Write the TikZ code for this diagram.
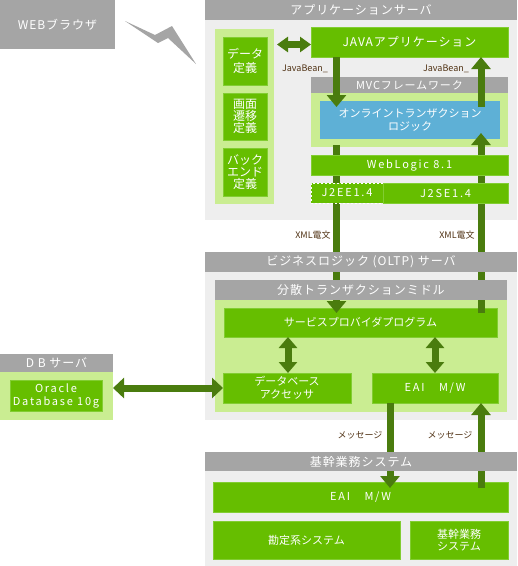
\documentclass[tikz,border=0pt]{standalone}
\usepackage{fontspec}
\setmainfont{Noto Sans CJK JP}
\newfontfamily\spfont[LetterSpace=8]{Noto Sans CJK JP}
\newfontfamily\latfont[LetterSpace=16]{Noto Sans CJK JP}
\usetikzlibrary{arrows.meta}
\definecolor{gfill}{RGB}{102,190,0}
\definecolor{gline}{RGB}{130,205,50}
\definecolor{lgreen}{RGB}{202,237,146}
\definecolor{hgray}{RGB}{165,165,165}
\definecolor{bggray}{RGB}{238,238,238}
\definecolor{agreen}{RGB}{74,124,14}
\definecolor{oblue}{RGB}{94,176,214}
\definecolor{lbrown}{RGB}{80,50,20}
\newcommand\fsA{\fontsize{11}{13}\selectfont}
\newcommand\fsH{\spfont\fontsize{12}{14}\selectfont}
\newcommand\fsL{\latfont\fontsize{11}{13}\selectfont}
\newcommand\fsS{\fontsize{9}{11}\selectfont}
\tikzset{
  sz/.style 2 args={minimum width=#1pt, minimum height=#2pt, anchor=north west},
  base/.style={inner sep=0pt, outer sep=0pt, align=center},
  gbox/.style={base, fill=gfill, draw=gline, line width=0.7pt, text=white, font=\fsA},
  hdr/.style={base, fill=hgray, text=white, font=\fsH},
  bgbox/.style={base, fill=bggray},
  lbox/.style={base, fill=lgreen},
  lbl/.style={text=lbrown, font=\fsS, inner sep=0pt},
  arr/.style={draw=agreen, line width=7pt, -{Triangle[width=19pt,length=12pt]}},
  darr/.style={draw=agreen, line width=7pt, {Triangle[width=#1pt,length=11pt]}-{Triangle[width=#1pt,length=11pt]}},
}
\begin{document}
\begin{tikzpicture}[x=1pt,y=-1pt]
\useasboundingbox (0,0) rectangle (518,566);
% web browser
\node[hdr, sz={115}{49}] (web) at (0,0) {WEBブラウザ};
\fill[hgray] (125,21) -- (155,35) -- (172,26) -- (196,64) -- (168,38) -- (158,43) -- cycle;
% application server
\node[bgbox, sz={312}{200}] (appbg) at (205,20) {};
\node[hdr, sz={312}{20}] (apphdr) at (205,0) {アプリケーションサーバ};
\node[lbox, sz={59}{175}] (defpanel) at (215,29) {};
\node[gbox, sz={44}{48}, font=\fontsize{12}{13.5}\selectfont] (def1) at (223,37) {データ\\定義};
\node[gbox, sz={44}{47}, font=\fontsize{12}{12}\selectfont] (def2) at (223,93) {画面\\遷移\\定義};
\node[gbox, sz={44}{48}, font=\fontsize{12}{12}\selectfont] (def3) at (223,148) {バック\\エンド\\定義};
\node[gbox, sz={197}{30}, font=\spfont\fontsize{12}{14}\selectfont] (java) at (311,27) {JAVAアプリケーション};
\node[hdr, sz={197}{16}, font=\spfont\fontsize{11}{13}\selectfont] (mvchdr) at (311,77) {MVCフレームワーク};
\node[lbox, sz={197}{54}] (mvcbody) at (311,93) {};
\node[base, fill=oblue, text=white, font=\fsA, sz={180}{38}] (olt) at (320,101) {オンライントランザクション\\ロジック};
\node[lbl] (jb1) at (305,69) {JavaBean\_};
\node[lbl] (jb2) at (446,69) {JavaBean\_};
% business logic server
\node[bgbox, sz={312}{148}] (bizbg) at (205,272) {};
\node[lbox, sz={292}{112}] (dtxpanel) at (215,300) {};
\node[gbox, sz={273}{29}] (spp) at (224,308) {サービスプロバイダプログラム};
\node[gbox, sz={128}{30}] (dba) at (223,373) {データベース\\アクセッサ};
\node[gbox, sz={126}{30}, font=\fsL] (eai1) at (372,373) {EAI　M/W};
\node[lbl] (xml1) at (313,235) {XML電文};
\node[lbl] (xml2) at (457,235) {XML電文};
% core systems
\node[bgbox, sz={312}{95}] (corebg) at (205,471) {};
\node[gbox, sz={295}{30}, font=\fsL] (eai2) at (213,482) {EAI　M/W};
\node[gbox, sz={187}{38}] (kanjo) at (213,521) {勘定系システム};
\node[gbox, sz={98}{38}, font=\fontsize{11}{12.5}\selectfont] (kikan) at (410,521) {基幹業務\\システム};
\node[lbl] (msg1) at (360,435) {メッセージ};
\node[lbl] (msg2) at (450,435) {メッセージ};
% DB server
\node[hdr, sz={113}{18}] (dbhdr) at (0,354) {D B サーバ};
\node[lbox, sz={113}{48}] (dbbody) at (0,372) {};
\node[gbox, sz={92}{31}, font=\latfont\fontsize{11}{13}\selectfont] (ora) at (10,380) {Oracle\\Database 10g};
% arrow columns
\coordinate (xl) at (336.5,0);
\coordinate (xr) at (481,0);
\coordinate (xe) at (390,0);
\coordinate (xv1) at (288,0);
\coordinate (xv2) at (435,0);
\coordinate (ytop) at (0,44.5);
% arrows
\draw[arr, shorten >=-6pt] (xl |- java.south) -- (xl |- olt.north);
\draw[arr, shorten <=6pt, shorten >=-5pt] (xl |- olt.south) -- (xl |- spp.north);
\draw[arr, shorten <=-6pt] (xr |- olt.north) -- (xr |- java.south);
\draw[arr, shorten <=-5pt, shorten >=-6pt] (xr |- spp.north) -- (xr |- olt.south);
\draw[arr, shorten >=-6pt] (xe |- eai1.south) -- (xe |- eai2.north);
\draw[arr, shorten <=-6pt] (xr |- eai2.north) -- (xr |- eai1.south);
\draw[darr=15, shorten <=3pt] (defpanel.east |- ytop) -- (java.west |- ytop);
\draw[darr=18] (xv1 |- spp.south) -- (xv1 |- dba.north);
\draw[darr=18] (xv2 |- spp.south) -- (xv2 |- eai1.north);
\draw[darr=20] (dba.west -| dbbody.east) -- (dba.west);
% boxes drawn over the arrows
\node[gbox, sz={197}{20}, font=\fsL] (weblogic) at (311,155) {WebLogic 8.1};
\node[gbox, sz={72}{20}, draw=white, dash pattern=on 2pt off 2pt, line width=1pt, font=\fsL] (j2ee) at (311,183) {J2EE1.4};
\node[gbox, sz={125}{20}, font=\fsL] (j2se) at (383,183) {J2SE1.4};
\node[hdr, sz={312}{20}] (bizhdr) at (205,252) {ビジネスロジック (OLTP) サーバ};
\node[hdr, sz={292}{20}] (dtxhdr) at (215,280) {分散トランザクションミドル};
\node[hdr, sz={312}{19}] (corehdr) at (205,452) {基幹業務システム};
\end{tikzpicture}
\end{document}
